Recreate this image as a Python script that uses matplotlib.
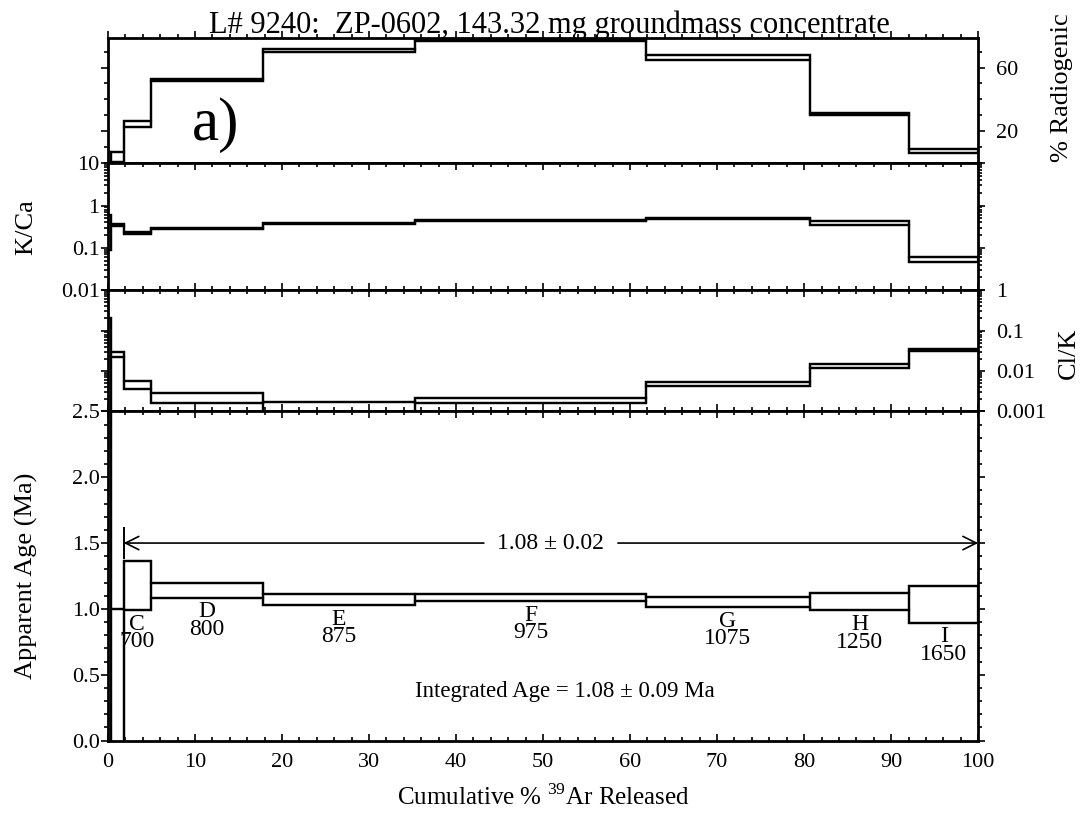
import numpy as np
import matplotlib
matplotlib.use('Agg')
import matplotlib.pyplot as plt
from matplotlib.ticker import MultipleLocator, FixedLocator, NullFormatter, LogLocator

plt.rcParams['font.family'] = ['Liberation Serif', 'DejaVu Serif']
plt.rcParams['mathtext.fontset'] = 'custom'
plt.rcParams['mathtext.rm'] = 'Liberation Serif'

# heating steps and cumulative 39Ar released (%)
steps = ['A', 'B', 'C', 'D', 'E', 'F', 'G', 'H', 'I']
temps = ['', '', '700', '800', '875', '975', '1075', '1250', '1650']
cum_ar = [0, 0.3, 1.8, 4.9, 17.8, 35.3, 61.8, 80.7, 92.1, 100]

# % radiogenic 40Ar* (low / high)
rad_low = [0.5, 0.5, 22.9, 51.5, 69.8, 76.8, 65.0, 30.3, 6.4]
rad_high = [7.3, 7.3, 26.7, 52.7, 71.9, 77.8, 67.6, 31.5, 8.8]

# K/Ca (low / high)
kca_low = [0.09, 0.32, 0.21, 0.28, 0.36, 0.44, 0.49, 0.34, 0.046]
kca_high = [0.60, 0.36, 0.24, 0.30, 0.38, 0.46, 0.51, 0.44, 0.060]

# Cl/K (low / high)
clk_low = [0.0005, 0.022, 0.0036, 0.0016, 0.0009, 0.0016, 0.0043, 0.0117, 0.031]
clk_high = [0.2, 0.030, 0.0058, 0.0028, 0.00175, 0.0021, 0.0053, 0.0148, 0.035]

# apparent age, Ma (low / high, 1 sigma box)
age_low = [-5.0, -1.0, 0.99, 1.083, 1.028, 1.058, 1.012, 0.988, 0.894]
age_high = [5.0, 1.0, 1.364, 1.197, 1.111, 1.116, 1.091, 1.123, 1.172]

plateau_age = '1.08 \u00b1 0.02'
plateau_start = cum_ar[2]
plateau_end = cum_ar[-1]
plateau_y = 1.5
integrated_age = 'Integrated Age = 1.08 \u00b1 0.09 Ma'

rad_ticks = [20, 60]
kca_ticks = [0.01, 0.1, 1, 10]
kca_labels = ['0.01', '0.1', '1', '10']
clk_ticks = [0.001, 0.01, 0.1, 1]
clk_labels = ['0.001', '0.01', '0.1', '1']
age_ticks = [0.0, 0.5, 1.0, 1.5, 2.0, 2.5]
x_ticks = [0, 10, 20, 30, 40, 50, 60, 70, 80, 90, 100]

LW = 1.6
SPINE = 2.0
TICK_FS = 16
LABEL_FS = 19

fig = plt.figure(figsize=(10.82, 8.18), dpi=100)
gs = fig.add_gridspec(4, 1, height_ratios=[125, 127, 121, 329], hspace=0,
                      left=0.0998, right=0.904, top=0.9535, bottom=0.0946)
ax_rad = fig.add_subplot(gs[0])
ax_kca = fig.add_subplot(gs[1], sharex=ax_rad)
ax_clk = fig.add_subplot(gs[2], sharex=ax_rad)
ax_age = fig.add_subplot(gs[3], sharex=ax_rad)

widths = np.diff(cum_ar)


def draw_steps(ax, low, high):
    low = np.array(low)
    high = np.array(high)
    # one open box per heating step ...
    ax.bar(cum_ar[:-1], high - low, width=widths, bottom=low, align='edge',
           fill=False, edgecolor='black', linewidth=LW)
    # ... joined into continuous upper and lower envelopes
    ax.stairs(high, cum_ar, baseline=None, color='black', linewidth=LW)
    ax.stairs(low, cum_ar, baseline=None, color='black', linewidth=LW)


def style_axis(ax, xdir='in'):
    for s in ax.spines.values():
        s.set_linewidth(SPINE)
    ax.xaxis.set_major_locator(FixedLocator(x_ticks))
    ax.xaxis.set_minor_locator(MultipleLocator(2))
    ax.tick_params(axis='x', which='both', direction=xdir, top=True, bottom=True,
                   labelbottom=False, width=1.2)
    ax.tick_params(axis='x', which='major', length=5)
    ax.tick_params(axis='x', which='minor', length=3)
    ax.tick_params(axis='y', which='both', direction='out', left=True, right=True,
                   width=1.2, labelsize=TICK_FS, pad=1)
    ax.tick_params(axis='y', which='major', length=5)
    ax.tick_params(axis='y', which='minor', length=3)


# % radiogenic
draw_steps(ax_rad, rad_low, rad_high)
ax_rad.set_ylim(0, 78.5)
ax_rad.yaxis.set_major_locator(FixedLocator(rad_ticks))
ax_rad.yaxis.set_minor_locator(MultipleLocator(10))
style_axis(ax_rad, xdir='out')
ax_rad.tick_params(axis='y', labelleft=False, labelright=True, pad=8)
ax_rad.set_ylabel('% Radiogenic', fontsize=LABEL_FS)
ax_rad.yaxis.set_label_position('right')
ax_rad.yaxis.set_label_coords(1.084, 0.6)
ax_rad.text(0.124, 0.30, 'a)', transform=ax_rad.transAxes, fontsize=44,
            ha='center', va='center')

# K/Ca
ax_kca.set_yscale('log')
draw_steps(ax_kca, kca_low, kca_high)
ax_kca.set_ylim(0.01, 10)
ax_kca.yaxis.set_major_locator(FixedLocator(kca_ticks))
ax_kca.set_yticklabels(kca_labels)
ax_kca.yaxis.set_minor_locator(LogLocator(base=10, subs=np.arange(2, 10)))
ax_kca.yaxis.set_minor_formatter(NullFormatter())
style_axis(ax_kca)
ax_kca.set_ylabel('K/Ca', fontsize=LABEL_FS)
ax_kca.yaxis.set_label_coords(-0.081, 0.5)

# Cl/K
ax_clk.set_yscale('log')
draw_steps(ax_clk, clk_low, clk_high)
ax_clk.set_ylim(0.001, 1)
ax_clk.yaxis.set_major_locator(FixedLocator(clk_ticks))
ax_clk.set_yticklabels(clk_labels)
ax_clk.yaxis.set_minor_locator(LogLocator(base=10, subs=np.arange(2, 10)))
ax_clk.yaxis.set_minor_formatter(NullFormatter())
style_axis(ax_clk)
ax_clk.tick_params(axis='y', labelleft=False, labelright=True, pad=8)
ax_clk.set_ylabel('Cl/K', fontsize=LABEL_FS)
ax_clk.yaxis.set_label_position('right')
ax_clk.yaxis.set_label_coords(1.092, 0.48)

# apparent age spectrum
draw_steps(ax_age, age_low, age_high)
ax_age.set_ylim(0, 2.5)
ax_age.set_xlim(0, 100)
ax_age.yaxis.set_major_locator(FixedLocator(age_ticks))
ax_age.yaxis.set_major_formatter(plt.FormatStrFormatter('%.1f'))
ax_age.yaxis.set_minor_locator(MultipleLocator(0.1))
style_axis(ax_age)
ax_age.tick_params(axis='x', labelbottom=True, labelsize=TICK_FS, pad=9)
ax_age.set_ylabel('Apparent Age (Ma)', fontsize=LABEL_FS)
ax_age.yaxis.set_label_coords(-0.081, 0.5)
ax_age.set_xlabel(r'Cumulative % $^{39}$Ar Released', fontsize=LABEL_FS - 1, labelpad=9)

# step labels below each box
for i in range(2, len(steps)):
    mid = (cum_ar[i] + cum_ar[i + 1]) / 2
    ax_age.text(mid, age_low[i] - 0.025, f'{steps[i]}\n{temps[i]}', ha='center', va='top',
                fontsize=17, linespacing=0.8)

# plateau bracket
plateau_mid = (plateau_start + plateau_end) / 2
gap = 7.7
arrow_kw = dict(arrowstyle='->', color='black', lw=1.2, mutation_scale=24, shrinkA=0, shrinkB=0)
ax_age.annotate('', xy=(plateau_start, plateau_y), xytext=(plateau_mid - gap, plateau_y),
                arrowprops=arrow_kw)
ax_age.annotate('', xy=(plateau_end, plateau_y), xytext=(plateau_mid + gap, plateau_y),
                arrowprops=arrow_kw)
ax_age.vlines(plateau_start, plateau_y - 0.12, plateau_y + 0.12, color='black', lw=1.4)
ax_age.text(plateau_mid, plateau_y, plateau_age, ha='center', va='center', fontsize=17)

ax_age.text(52.5, 0.37, integrated_age, ha='center', va='center', fontsize=16.5)

fig.text(0.5075, 1 - 33 / 818, 'L# 9240:  ZP-0602, 143.32 mg groundmass concentrate',
         ha='center', va='baseline', fontsize=22)

fig.savefig('out.png', dpi=100, facecolor='white')
